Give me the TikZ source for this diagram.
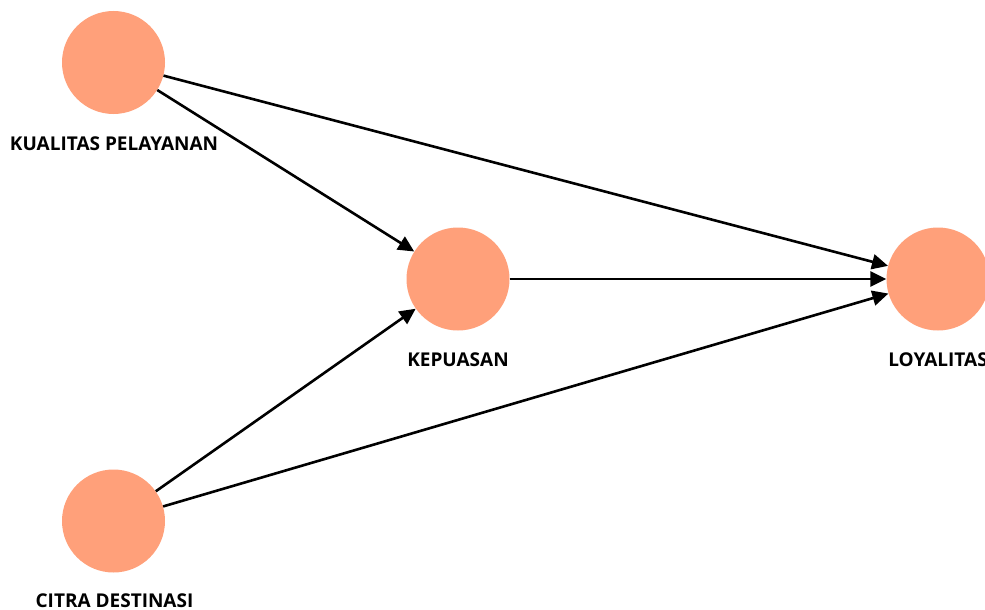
\documentclass[tikz,border=0pt]{standalone}
\usepackage{fontspec}
\setmainfont{Open Sans}
\usetikzlibrary{arrows.meta}
\definecolor{salmon}{RGB}{255,160,122}
\tikzset{
  lv/.style={circle, fill=salmon, draw=none, minimum size=103pt, inner sep=0pt},
  lbl/.style={font=\fontsize{19pt}{22pt}\selectfont\bfseries, inner sep=0pt, anchor=center},
  path/.style={line width=2.6pt, -{Triangle[length=16pt,width=15pt]}, shorten >=0pt}
}
\begin{document}
\begin{tikzpicture}[x=1pt,y=-1pt]
\useasboundingbox (0,0) rectangle (985,610);
\node[lv] (kp) at (113.5,62.5) {};
\node[lv] (ke) at (458,279) {};
\node[lv] (lo) at (938,279) {};
\node[lv] (ci) at (113.5,521) {};
\node[lbl] (kpl) at (114,144) {KUALITAS PELAYANAN};
\node[lbl] (kel) at (458,360) {KEPUASAN};
\node[lbl] (lol) at (938,360) {LOYALITAS};
\node[lbl] (cil) at (114.5,601) {CITRA DESTINASI};
\draw[path] (kp) -- (ke);
\draw[path] (kp) -- (lo);
\draw[path] (ci) -- (ke);
\draw[path] (ci) -- (lo);
\draw[path] (ke) -- (lo);
\end{tikzpicture}
\end{document}
